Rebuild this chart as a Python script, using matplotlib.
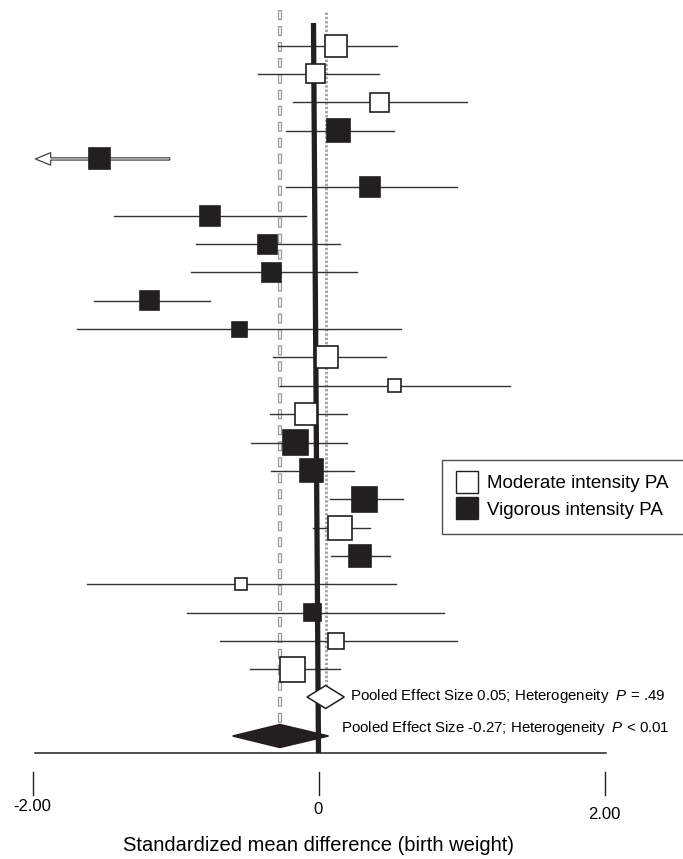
import matplotlib
matplotlib.use('Agg')
import matplotlib.pyplot as plt
from matplotlib.patches import Rectangle, Polygon, FancyArrowPatch
from matplotlib.lines import Line2D

plt.rcParams['font.family'] = ['Liberation Sans', 'DejaVu Sans']
plt.rcParams['mathtext.fontset'] = 'custom'
plt.rcParams['mathtext.rm'] = 'Liberation Sans'
plt.rcParams['mathtext.it'] = 'Liberation Sans:italic'

# ---------------- data ----------------
effect = [0.12, -0.02, 0.43, 0.14, -1.53, 0.36, -0.76, -0.36, -0.33, -1.18,
          -0.55, 0.06, 0.53, -0.09, -0.16, -0.05, 0.32, 0.15, 0.29, -0.54,
          -0.04, 0.12, -0.18]
ci_low = [-0.28, -0.42, -0.18, -0.23, -2.40, -0.23, -1.43, -0.86, -0.89, -1.57,
          -1.69, -0.32, -0.27, -0.34, -0.47, -0.33, 0.08, -0.04, 0.09, -1.62,
          -0.92, -0.69, -0.48]
ci_high = [0.55, 0.42, 1.04, 0.53, -1.04, 0.97, -0.09, 0.15, 0.27, -0.76,
           0.58, 0.47, 1.34, 0.20, 0.20, 0.25, 0.59, 0.36, 0.50, 0.54,
           0.88, 0.97, 0.15]
weights = [22, 19, 19, 23, 21, 20, 20, 19, 19, 19,
           15, 22, 13, 22, 25, 23, 25, 24, 22, 12,
           17, 16, 25]
intensity = ['Moderate', 'Moderate', 'Moderate', 'Vigorous', 'Vigorous',
             'Vigorous', 'Vigorous', 'Vigorous', 'Vigorous', 'Vigorous',
             'Vigorous', 'Moderate', 'Moderate', 'Moderate', 'Vigorous',
             'Vigorous', 'Vigorous', 'Moderate', 'Vigorous', 'Moderate',
             'Vigorous', 'Moderate', 'Moderate']

pooled_group = ['Moderate', 'Vigorous']
pooled_effect = [0.05, -0.27]
pooled_low = [-0.08, -0.60]
pooled_high = [0.18, 0.07]
pooled_p = ['= .49', '< 0.01']

xticks = [-2, 0, 2]
xtick_labels = ['-2.00', '0', '2.00']
legend_labels = ['Moderate intensity PA', 'Vigorous intensity PA']
xlabel = 'Standardized mean difference (birth weight)'

# ---------------- layout ----------------
W, H = 683, 859
PX_UNIT = 143.0          # pixels per unit of effect size
X0_PX = 318.5            # pixel position of 0
ROW_PX = 28.36           # pixels per study row
ROW1_PX = 45.5

def ypx(p):
    return 1 + (p - ROW1_PX) / ROW_PX

DARK = '#231f20'
fill = {'Moderate': 'white', 'Vigorous': DARK}

fig = plt.figure(figsize=(W / 100, H / 100), dpi=100)
ax = fig.add_axes([0, 0, 1, 1])
ax.set_xlim(-X0_PX / PX_UNIT, (W - X0_PX) / PX_UNIT)
ax.set_ylim(ypx(H), ypx(0))
ax.axis('off')

# pooled reference lines
vig = pooled_effect[1]
mod = pooled_effect[0]
# hollow dashes: grey dashes with white inner dashes of identical period
g_lw, w_lw = 3.0, 1.2
g_on, g_off = 7.2, 4.3                      # points
period = g_on + g_off
w_on = g_on - 1.8
w_off = period - w_on
w_offset = period - 0.9
ax.plot([vig, vig], [ypx(10), ypx(727)], color='#9a9a9a', lw=g_lw,
        linestyle=(0, (g_on / g_lw, g_off / g_lw)), dash_capstyle='butt', zorder=1)
ax.plot([vig, vig], [ypx(10), ypx(727)], color='white', lw=w_lw,
        linestyle=(w_offset / w_lw, (w_on / w_lw, w_off / w_lw)), dash_capstyle='butt', zorder=1.1)
ax.plot([mod, mod], [ypx(12), ypx(686)], color='#a8a8a8', lw=2.2,
        linestyle=(0, (0.8, 0.6)), zorder=1)

# CI lines
n = len(effect)
xmin_clip = -1.98
for i in range(n):
    y = i + 1
    lo, hi = ci_low[i], ci_high[i]
    if lo < xmin_clip:
        arr = FancyArrowPatch((hi, y), (xmin_clip, y),
                              arrowstyle='simple,head_length=1.1,head_width=0.9,tail_width=0.16',
                              mutation_scale=10, facecolor='white', edgecolor='#444444',
                              lw=0.9, shrinkA=0, shrinkB=0, zorder=2)
        ax.add_patch(arr)
    else:
        ax.plot([lo, hi], [y, y], color='#333333', lw=1.0, zorder=2)

# zero line (thick)
ax.plot([-0.035, 0.0], [ypx(23), ypx(753)], color=DARK, lw=3.8,
        solid_capstyle='butt', zorder=3)

# study squares
for i in range(n):
    y = i + 1
    w = weights[i] / PX_UNIT
    h = weights[i] / ROW_PX
    ax.add_patch(Rectangle((effect[i] - w / 2, y - h / 2), w, h,
                           facecolor=fill[intensity[i]], edgecolor=DARK,
                           lw=1.2, zorder=4))

# pooled diamonds
pooled_y = [ypx(697), ypx(736)]
text_y = [ypx(696), ypx(728)]
text_x = [(350 - X0_PX) / PX_UNIT, (341 - X0_PX) / PX_UNIT]
dh = 11.5 / ROW_PX
for k in range(2):
    c, lo, hi, y = pooled_effect[k], pooled_low[k], pooled_high[k], pooled_y[k]
    ax.add_patch(Polygon([(lo, y), (c, y - dh), (hi, y), (c, y + dh)], closed=True,
                         facecolor=fill[pooled_group[k]], edgecolor=DARK, lw=1.1, zorder=5))
    ax.text(text_x[k], text_y[k],
            'Pooled Effect Size %.2f; Heterogeneity  $\\mathit{P}$ %s' % (c, pooled_p[k]),
            fontsize=10.8, ha='left', va='center', color='black', zorder=6)

# baseline axis
ax.plot([xticks[0] + 0.02, xticks[-1] + 0.01], [ypx(753), ypx(753)], color=DARK, lw=1.1, zorder=3)
tick_label_y = [806, 809, 814]
for t, lab, ly in zip(xticks, xtick_labels, tick_label_y):
    ax.plot([t, t], [ypx(772), ypx(795)], color=DARK, lw=1.0)
    ax.text(t, ypx(ly), lab, fontsize=12, ha='center', va='center')

ax.text(0, ypx(845), xlabel, fontsize=14.5, ha='center', va='center')

# legend
handles = [Line2D([], [], marker='s', ls='none', markersize=16,
                  markerfacecolor=fill[g], markeredgecolor=DARK, markeredgewidth=1.0)
           for g in pooled_group]
leg = ax.legend(handles, legend_labels, loc='upper left',
                bbox_to_anchor=(442 / W, 1 - 460 / H), bbox_transform=fig.transFigure,
                fontsize=13.5, frameon=True, fancybox=False, borderpad=0.8,
                labelspacing=0.5, handletextpad=0.5, handlelength=1.1,
                borderaxespad=0)
leg.get_frame().set_edgecolor(DARK)
leg.get_frame().set_linewidth(1.0)

fig.savefig('out.png', dpi=100)
